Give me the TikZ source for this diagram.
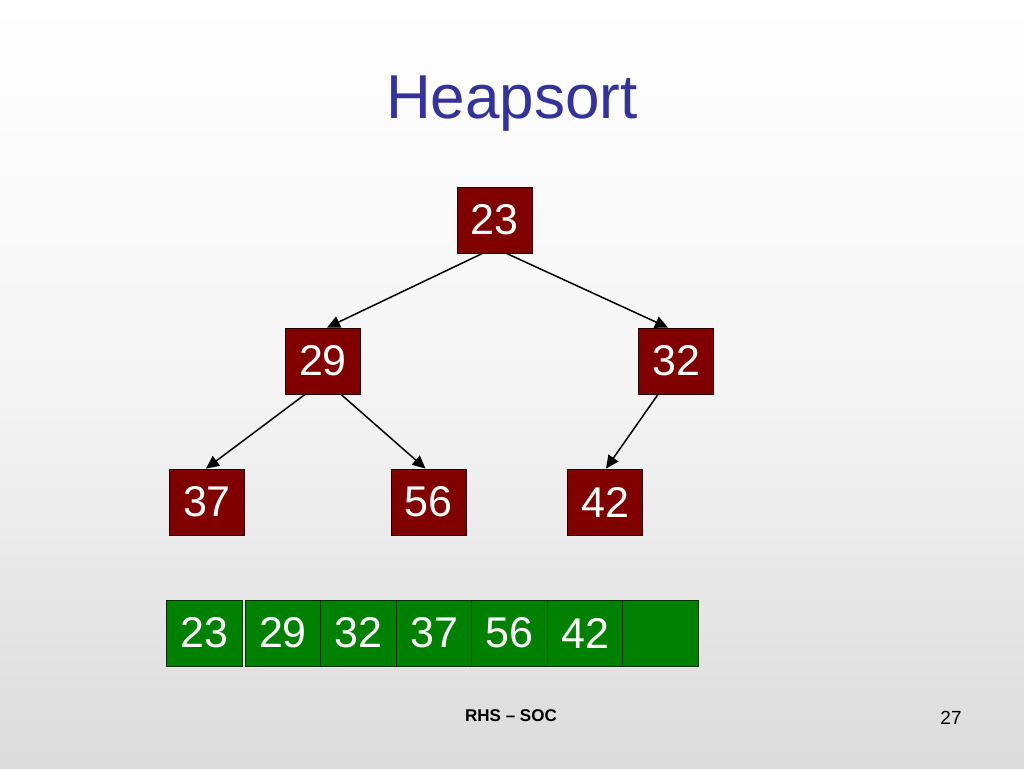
\documentclass[tikz,border=0pt]{standalone}
\usepackage{fontspec}
\setmainfont{Liberation Sans}
\usetikzlibrary{arrows.meta}
\definecolor{titleblue}{HTML}{333399}
\definecolor{heapred}{HTML}{800000}
\definecolor{heapgreen}{HTML}{008000}
\begin{document}
\begin{tikzpicture}[x=1pt,y=-1pt,
  heapnode/.style={draw=black!70!heapred, line width=0.8pt, fill=heapred, text=white,
    minimum width=75pt, minimum height=66pt, inner sep=0pt,
    font=\fontsize{43}{43}\selectfont},
  cellbox/.style={draw=black!60!heapgreen, line width=0.8pt, fill=heapgreen, text=white,
    minimum width=75.5pt, minimum height=66pt, inner sep=0pt,
    font=\fontsize{43}{43}\selectfont},
  edge/.style={line width=1.5pt, -{Triangle[length=13pt,width=12pt]}}]
\useasboundingbox (0,0) rectangle (1024,768);
\shade[top color=white, bottom color=black!14, middle color=black!4] (0,0) rectangle (1024,768);
\node[text=titleblue, font=\fontsize{62}{62}\selectfont, anchor=base] (title) at (512,118) {Heapsort};
% tree
\node[heapnode] (n23) at (494.5,220) {23};
\node[heapnode] (n29) at (323,361) {29};
\node[heapnode] (n32) at (676,361) {32};
\node[heapnode] (n37) at (207,502) {37};
\node[heapnode] (n56) at (428.5,502) {56};
\node[heapnode] (n42) at (605,502) {42};
\draw[edge] ([xshift=-12pt]n23.south) -- ([xshift=4pt]n29.north);
\draw[edge] ([xshift=12pt]n23.south) -- ([xshift=-8pt]n32.north);
\draw[edge] ([xshift=-18pt]n29.south) -- ([xshift=-1pt]n37.north);
\draw[edge] ([xshift=18pt]n29.south) -- ([xshift=-3pt]n56.north);
\draw[edge] ([xshift=-18pt]n32.south) -- ([xshift=1pt]n42.north);
% array
\node[cellbox] (c1) at (204.5,633) {23};
\node[cellbox] (c2) at (283,633) {29};
\node[cellbox] (c3) at (358.5,633) {32};
\node[cellbox] (c4) at (434,633) {37};
\node[cellbox] (c5) at (509.5,633) {56};
\node[cellbox] (c6) at (585,633) {42};
\node[cellbox] (c7) at (660.5,633) {};
% footer
\node[font=\bfseries\fontsize{17}{17}\selectfont, anchor=base] (foot) at (511,721) {RHS – SOC};
\node[font=\fontsize{19}{19}\selectfont, anchor=base] (page) at (951,724) {27};
\end{tikzpicture}
\end{document}
